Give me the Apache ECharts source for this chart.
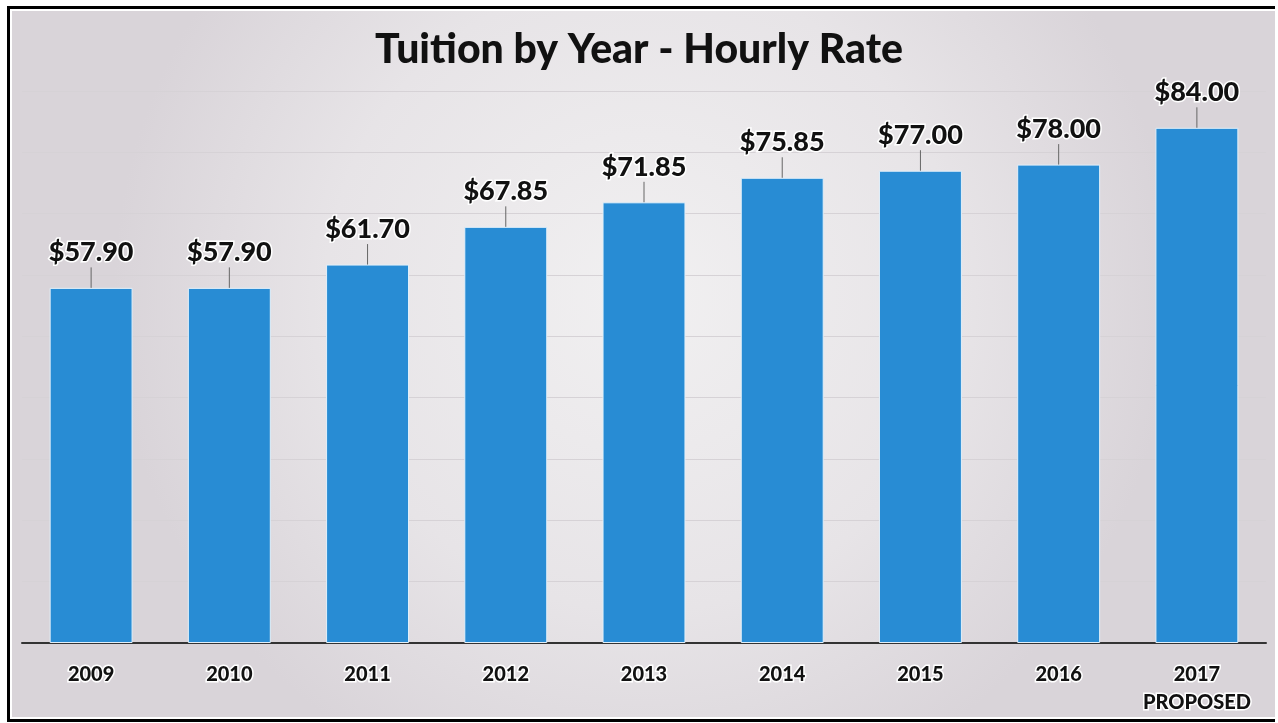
<!DOCTYPE html>
<html>
<head>
<meta charset="utf-8">
<script src="https://cdn.jsdelivr.net/npm/echarts@6/dist/echarts.min.js"></script>
</head>
<body style="margin:0;background:#fff">
<div id="main" style="width:1278px;height:723px"></div>
<script>
var years = ['2009', '2010', '2011', '2012', '2013', '2014', '2015', '2016', '2017\nPROPOSED'];
var rates = [57.90, 57.90, 61.70, 67.85, 71.85, 75.85, 77.00, 78.00, 84.00];

var chart = echarts.init(document.getElementById('main'));
var option = {
    backgroundColor: '#fff',
    graphic: [
        {
            type: 'rect',
            z: -10,
            shape: { x: 7, y: 6, width: 1268, height: 716 },
            style: { fill: '#000' }
        },
        {
            type: 'rect',
            z: -9,
            shape: { x: 10, y: 9, width: 1265, height: 710 },
            style: { fill: '#fff' }
        },
        {
            type: 'rect',
            z: -8,
            shape: { x: 12, y: 11, width: 1263, height: 706 },
            style: {
                // light in the middle, greyer towards the edges
                fill: new echarts.graphic.RadialGradient(0.5, 0.4, 0.75, [
                    { offset: 0, color: '#f1f0f1' },
                    { offset: 0.6, color: '#e7e4e7' },
                    { offset: 1, color: '#d9d4d9' }
                ])
            }
        }
    ],
    title: {
        text: 'Tuition by Year - Hourly Rate',
        left: 'center',
        top: 24,
        textStyle: {
            fontFamily: 'Lato',
            fontWeight: 900,
            fontSize: 41,
            color: '#111'
        }
    },
    grid: {
        left: 22,
        right: 12,
        top: 91,
        bottom: 80,
        containLabel: false
    },
    xAxis: {
        type: 'category',
        data: years,
        axisTick: { show: false },
        axisLine: { lineStyle: { color: '#333', width: 2 } },
        axisLabel: {
            interval: 0,
            margin: 18,
            fontFamily: 'Lato',
            fontWeight: 900,
            fontSize: 20,
            lineHeight: 28,
            color: '#111',
            textBorderColor: '#fff',
            textBorderWidth: 3
        }
    },
    yAxis: {
        type: 'value',
        min: 0,
        max: 90,
        interval: 10,
        axisLabel: { show: false },
        axisLine: { show: false },
        axisTick: { show: false },
        splitLine: { lineStyle: { color: '#d6d2d6', width: 1 } }
    },
    series: [
        {
            type: 'bar',
            data: rates,
            barCategoryGap: '40%',
            itemStyle: {
                color: '#288cd4',
                borderColor: '#e2f0fa',
                borderWidth: 1
            },
            label: {
                show: true,
                position: 'top',
                distance: 4,
                formatter: function (p) { return '$' + p.value.toFixed(2); },
                fontFamily: 'Lato',
                fontWeight: 900,
                fontSize: 27,
                color: '#111',
                textBorderColor: '#fff',
                textBorderWidth: 3
            },
            labelLayout: { dy: -18 },
            labelLine: {
                show: true,
                lineStyle: { color: '#666', width: 1 }
            }
        }
    ]
};
chart.setOption(option);
</script>
</body>
</html>
